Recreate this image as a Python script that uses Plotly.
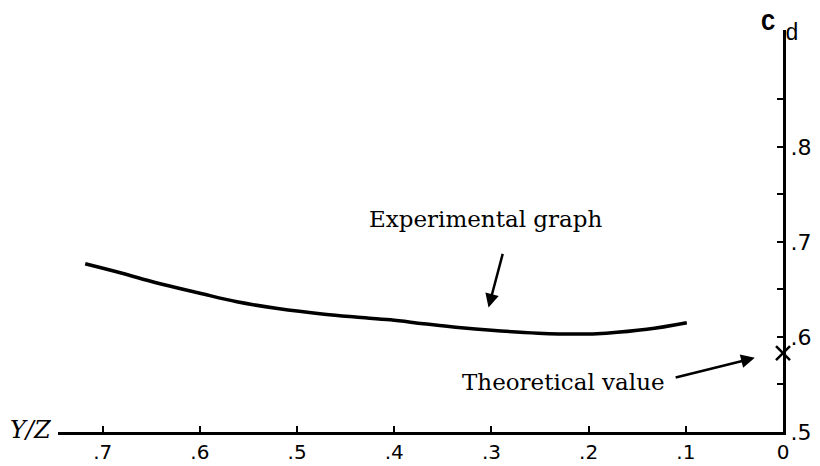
import plotly.graph_objects as go

# Experimental curve (Y/Z vs C_d)
exp_x = [0.718, 0.68, 0.645, 0.60, 0.562, 0.52, 0.472, 0.44, 0.404, 0.37, 0.334, 0.30, 0.252, 0.21, 0.182, 0.14, 0.099]
exp_y = [0.677, 0.667, 0.657, 0.646, 0.637, 0.630, 0.624, 0.621, 0.618, 0.614, 0.610, 0.607, 0.604, 0.603, 0.604, 0.608, 0.615]

# Theoretical value
theo_x = [0.0]
theo_y = [0.583]

# Ticks
x_tickvals = [0.7, 0.6, 0.5, 0.4, 0.3, 0.2, 0.1, 0.0]
x_ticktext = [".7", ".6", ".5", ".4", ".3", ".2", ".1", "0"]
y_tickvals = [0.5, 0.55, 0.6, 0.65, 0.7, 0.75, 0.8, 0.85]
y_ticktext = [".5", "", ".6", "", ".7", "", ".8", ""]

fig = go.Figure()
fig.add_trace(go.Scatter(
    x=exp_x, y=exp_y, mode="lines",
    line=dict(color="black", width=3.5, shape="spline"),
    showlegend=False, hoverinfo="skip"))
fig.add_trace(go.Scatter(
    x=theo_x, y=theo_y, mode="markers",
    marker=dict(symbol="x-thin", size=14, line=dict(color="black", width=2.5)),
    cliponaxis=False, showlegend=False, hoverinfo="skip"))

x_tick_font = dict(family="DejaVu Sans", size=20, color="black")
y_tick_font = dict(family="DejaVu Sans", size=22, color="black")
text_font = dict(family="DejaVu Serif", size=23, color="black")

fig.update_layout(
    template="none",
    width=812, height=458,
    margin=dict(l=50, r=37, t=22, b=34),
    paper_bgcolor="white", plot_bgcolor="white",
    xaxis=dict(range=[0.746, 0.0], showgrid=False, zeroline=False, automargin=False,
               showline=True, linecolor="black", linewidth=3,
               ticks="inside", ticklen=6, tickwidth=2, tickcolor="black",
               tickvals=x_tickvals, ticktext=x_ticktext, tickfont=x_tick_font),
    yaxis=dict(range=[0.5, 0.923], side="right", showgrid=False, zeroline=False, automargin=False,
               showline=True, linecolor="black", linewidth=3,
               ticks="inside", ticklen=6, tickwidth=2, tickcolor="black",
               tickvals=y_tickvals, ticktext=y_ticktext, tickfont=y_tick_font),
    annotations=[
        dict(text="Experimental graph", x=0.306, y=0.724, xref="x", yref="y",
             showarrow=False, font=text_font),
        dict(text="", x=0.303, y=0.631, xref="x", yref="y",
             ax=0.288, ay=0.689, axref="x", ayref="y",
             showarrow=True, arrowhead=2, arrowsize=1.1, arrowwidth=2.5, arrowcolor="black"),
        dict(text="Theoretical value", x=0.226, y=0.553, xref="x", yref="y",
             showarrow=False, font=text_font),
        dict(text="", x=0.029, y=0.578, xref="x", yref="y",
             ax=0.112, ay=0.557, axref="x", ayref="y",
             showarrow=True, arrowhead=2, arrowsize=1.1, arrowwidth=2.5, arrowcolor="black"),
        dict(text="<i>Y/Z</i>", x=-0.005, y=0.005, xref="paper", yref="paper",
             xanchor="right", yanchor="middle", showarrow=False,
             font=dict(family="DejaVu Serif", size=24, color="black")),
        dict(text="<b>C</b>", x=0.979, y=1.0547, xref="paper", yref="paper",
             xanchor="center", yanchor="top", showarrow=False,
             font=dict(family="Liberation Mono", size=24, color="black")),
        dict(text="d", x=1.012, y=0.99, xref="paper", yref="paper",
             xanchor="center", yanchor="middle", showarrow=False,
             font=dict(family="Liberation Mono", size=23, color="black")),
    ],
)

fig.write_html("out.html")
